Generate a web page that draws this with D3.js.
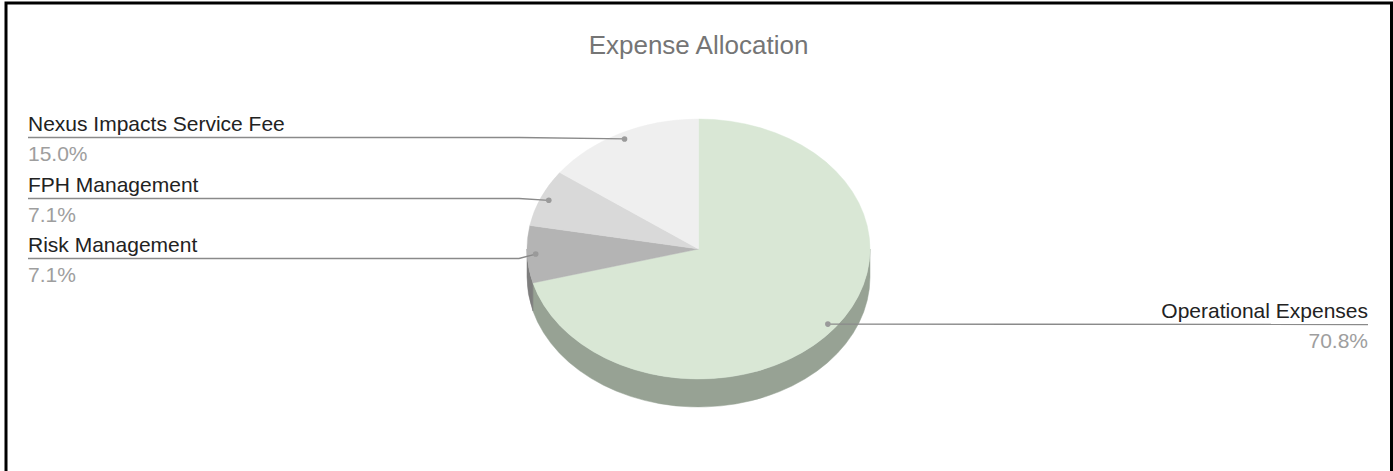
<!DOCTYPE html>
<html>
<head>
<meta charset="utf-8">
<script src="https://cdn.jsdelivr.net/npm/d3@7"></script>
<style>
  html, body { margin: 0; padding: 0; background: #fff; }
  svg { display: block; }
</style>
</head>
<body>
<script>
// ---- data ----
const categories = ["Operational Expenses", "Risk Management", "FPH Management", "Nexus Impacts Service Fee"];
const values = [70.8, 7.1, 7.1, 15.0];
const pctLabels = ["70.8%", "7.1%", "7.1%", "15.0%"];
const topColors = ["#d9e7d5", "#b4b4b4", "#d9d9d9", "#efefef"];
const sideColors = ["#97a294", "#7e7e7e", "#989898", "#a8a8a8"];

// ---- layout ----
const W = 1393, H = 471;
const cx = 698.5, cy = 249, rx = 171.5, ry = 130, depth = 28;
const fontFam = "Liberation Sans";
const fontSize = 21;

const svg = d3.select("body").append("svg").attr("width", W).attr("height", H);

// frame
svg.append("path")
  .attr("d", `M6,${H} L6,3 L1391.5,3 L1391.5,${H}`)
  .attr("fill", "none").attr("stroke", "#000").attr("stroke-width", 3);

// title
svg.append("text")
  .attr("x", cx).attr("y", 54)
  .attr("text-anchor", "middle")
  .attr("font-family", fontFam).attr("font-size", 26)
  .attr("fill", "#757575")
  .text("Expense Allocation");

const pie = d3.pie().sort(null).startAngle(0).endAngle(2 * Math.PI);
const arcs = pie(values);

const ex = a => cx + rx * Math.sin(a);
const ey = a => cy - ry * Math.cos(a);

// side walls (front half: angles between PI/2 and 3PI/2)
const sideG = svg.append("g");
arcs.forEach((d, i) => {
  const a0 = Math.max(d.startAngle, Math.PI / 2);
  const a1 = Math.min(d.endAngle, 3 * Math.PI / 2);
  if (a1 <= a0) return;
  const large = (a1 - a0) > Math.PI ? 1 : 0;
  const p = `M${ex(a0)},${ey(a0)}` +
    ` A${rx},${ry} 0 ${large} 1 ${ex(a1)},${ey(a1)}` +
    ` L${ex(a1)},${ey(a1) + depth}` +
    ` A${rx},${ry} 0 ${large} 0 ${ex(a0)},${ey(a0) + depth} Z`;
  sideG.append("path").attr("d", p).attr("fill", sideColors[i])
    .attr("stroke", sideColors[i]).attr("stroke-width", 0.5);
});

// top face
const arcGen = d3.arc().innerRadius(0).outerRadius(rx);
svg.append("g")
  .attr("transform", `translate(${cx},${cy}) scale(1,${ry / rx})`)
  .selectAll("path").data(arcs).join("path")
  .attr("d", arcGen)
  .attr("fill", (d, i) => topColors[i])
  .attr("stroke", (d, i) => topColors[i]).attr("stroke-width", 0.5);

// label anchors
const f = 0.95;
const anchors = arcs.map((d, i) => {
  const m = (d.startAngle + d.endAngle) / 2;
  return { i, m, x: cx + rx * f * Math.sin(m), y: cy - ry * f * Math.cos(m), right: Math.sin(m) > 0 };
});

// resolve label line positions per side (min spacing)
function spread(list, gap) {
  list.sort((a, b) => a.y - b.y);
  list.forEach(a => a.ly = a.y);
  for (let it = 0; it < 50; it++) {
    let moved = false;
    for (let k = 1; k < list.length; k++) {
      const d = list[k].ly - list[k - 1].ly;
      if (d < gap) {
        const s = (gap - d) / 2;
        list[k - 1].ly -= s; list[k].ly += s; moved = true;
      }
    }
    if (!moved) break;
  }
}
const leftA = anchors.filter(a => !a.right);
const rightA = anchors.filter(a => a.right);
spread(leftA, 60.5);
spread(rightA, 60.5);

const leftX = 28, leftBend = 519, rightX = 1368;
const lab = svg.append("g");
anchors.forEach(a => {
  const ly = Math.round(a.ly) + 0.5;
  let pts;
  if (a.right) {
    pts = [[a.x, a.y], [rightX, ly]];
  } else {
    pts = [[leftX, ly], [leftBend, ly], [a.x, a.y]];
  }
  lab.append("path").attr("d", d3.line()(pts))
    .attr("fill", "none").attr("stroke", "#8a8a8a").attr("stroke-width", 1.3);
  lab.append("circle").attr("cx", a.x).attr("cy", a.y).attr("r", 2.8).attr("fill", "#9a9a9a");
  const tx = a.right ? rightX : leftX;
  const anchor = a.right ? "end" : "start";
  lab.append("text").attr("x", tx).attr("y", ly - 7)
    .attr("text-anchor", anchor).attr("font-family", fontFam).attr("font-size", fontSize)
    .attr("fill", "#222").text(categories[a.i]);
  lab.append("text").attr("x", tx).attr("y", ly + 23)
    .attr("text-anchor", anchor).attr("font-family", fontFam).attr("font-size", fontSize)
    .attr("fill", "#9e9e9e").text(pctLabels[a.i]);
});
</script>
</body>
</html>
